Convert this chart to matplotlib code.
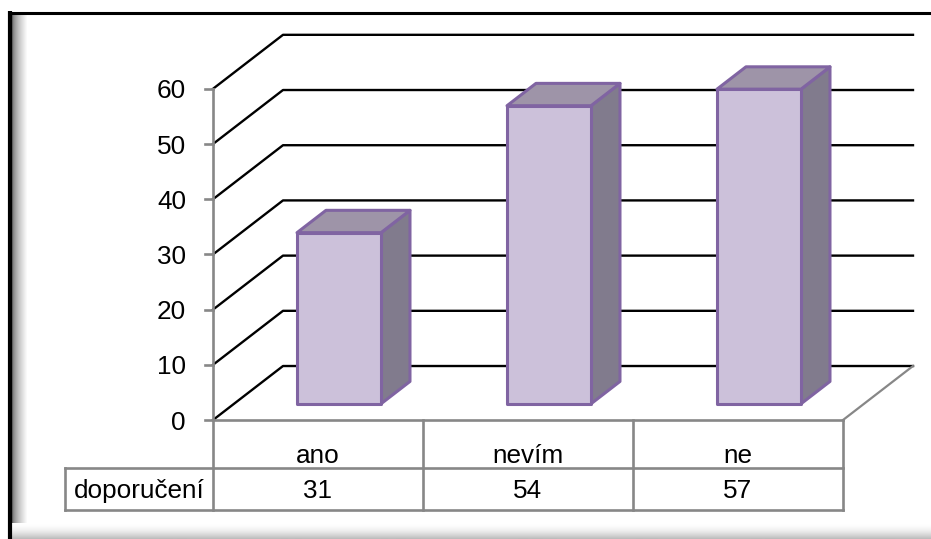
import numpy as np
import matplotlib.pyplot as plt
from matplotlib.patches import Polygon

plt.rcParams['font.family'] = ['Liberation Sans', 'DejaVu Sans']

# data
categories = ['ano', 'nevím', 'ne']
values = [31, 54, 57]
series_name = 'doporučení'
yticks = [0, 10, 20, 30, 40, 50, 60]

# geometry of the fake 3D look (in data units)
DX = 1 / 3      # horizontal shift of full depth (category units)
DY = 9.78       # vertical shift of full depth (value units)
BAR_FRONT = 0.30
BAR_BACK = 0.714
BAR_W = 0.4
ROW1 = -8.70
ROW2 = -16.30
LABEL_LEFT = -0.705
FS = 18.8

FRONT = '#CCC1DA'
SIDE = '#817B8D'
TOP = '#9E94A8'
EDGE = '#8064A2'
GRAY = '#878787'

W, H = 931, 539
fig = plt.figure(figsize=(W / 100, H / 100), dpi=100)

# background frame with shadows (pixel coordinates)
bg = fig.add_axes([0, 0, 1, 1], zorder=-1)
bg.axis('off')
left_grad = (np.linspace(0, 1, 16) ** 0.6 * 0.6 + 0.4)[None, :]
bg.imshow(left_grad, cmap='gray', vmin=0, vmax=1, extent=[12, 28, H, 12],
          aspect='auto', interpolation='bilinear')
bot_grad = (1 - np.linspace(0, 1, 16) ** 1.8 * 0.26)[:, None]
bg.imshow(bot_grad, cmap='gray', vmin=0, vmax=1, extent=[12, W, H, 523],
          aspect='auto', interpolation='bilinear')
bg.plot([10, 10], [H, 11], color='black', lw=3.0, solid_capstyle='butt')
bg.plot([8, W], [12.5, 12.5], color='black', lw=2.2, solid_capstyle='butt')
bg.set_xlim(0, W)
bg.set_ylim(H, 0)

ax = fig.add_axes([0, 0, 1, 1])
ax.set_xlim(-213 / 210, (W - 213) / 210)
ax.set_ylim((420 - H) / 5.52, 420 / 5.52)
ax.axis('off')

n = len(categories)

# walls: gridlines on side and back wall
for t in yticks:
    ax.plot([0, DX, n + DX], [t, t + DY, t + DY], color='black', lw=1.7, zorder=1)
# right edge of floor
ax.plot([n + DX, n], [DY, 0], color=GRAY, lw=1.6, zorder=1)

# value axis
ax.plot([0, 0], [yticks[-1], ROW2], color=GRAY, lw=1.9, zorder=1)
for t in yticks:
    ax.plot([-0.04, 0], [t, t], color=GRAY, lw=1.9, zorder=1)
    ax.text(-0.129, t, str(t), ha='right', va='center_baseline', fontsize=FS, color='black')

# bars
ddx = (BAR_BACK - BAR_FRONT) * DX
ddy = (BAR_BACK - BAR_FRONT) * DY
for i, v in enumerate(values):
    x0 = i + 0.5 - BAR_W / 2 + BAR_FRONT * DX
    x1 = x0 + BAR_W
    y0 = BAR_FRONT * DY
    y1 = v + BAR_FRONT * DY
    side = [(x1, y0), (x1 + ddx, y0 + ddy), (x1 + ddx, y1 + ddy), (x1, y1)]
    top = [(x0, y1), (x1, y1), (x1 + ddx, y1 + ddy), (x0 + ddx, y1 + ddy)]
    front = [(x0, y0), (x1, y0), (x1, y1), (x0, y1)]
    for pts, col in [(side, SIDE), (top, TOP), (front, FRONT)]:
        ax.add_patch(Polygon(pts, closed=True, facecolor=col, edgecolor=EDGE,
                             lw=2.2, joinstyle='round', zorder=3))

# data table
ax.plot([0, n], [0, 0], color=GRAY, lw=1.9, zorder=2)
ax.plot([LABEL_LEFT, n], [ROW1, ROW1], color=GRAY, lw=1.9, zorder=2)
ax.plot([LABEL_LEFT, n], [ROW2, ROW2], color=GRAY, lw=1.9, zorder=2)
ax.plot([LABEL_LEFT, LABEL_LEFT], [ROW1, ROW2], color=GRAY, lw=1.9, zorder=2)
for i in range(1, n + 1):
    ax.plot([i, i], [0, ROW2], color=GRAY, lw=1.9, zorder=2)

for i, (c, v) in enumerate(zip(categories, values)):
    ax.text(i + 0.5, -7.79, c, ha='center', va='baseline', fontsize=FS)
    ax.text(i + 0.5, -14.13, str(v), ha='center', va='baseline', fontsize=FS)
ax.text(LABEL_LEFT / 2, -14.13, series_name, ha='center', va='baseline', fontsize=FS)

fig.savefig('out.png', dpi=100)
